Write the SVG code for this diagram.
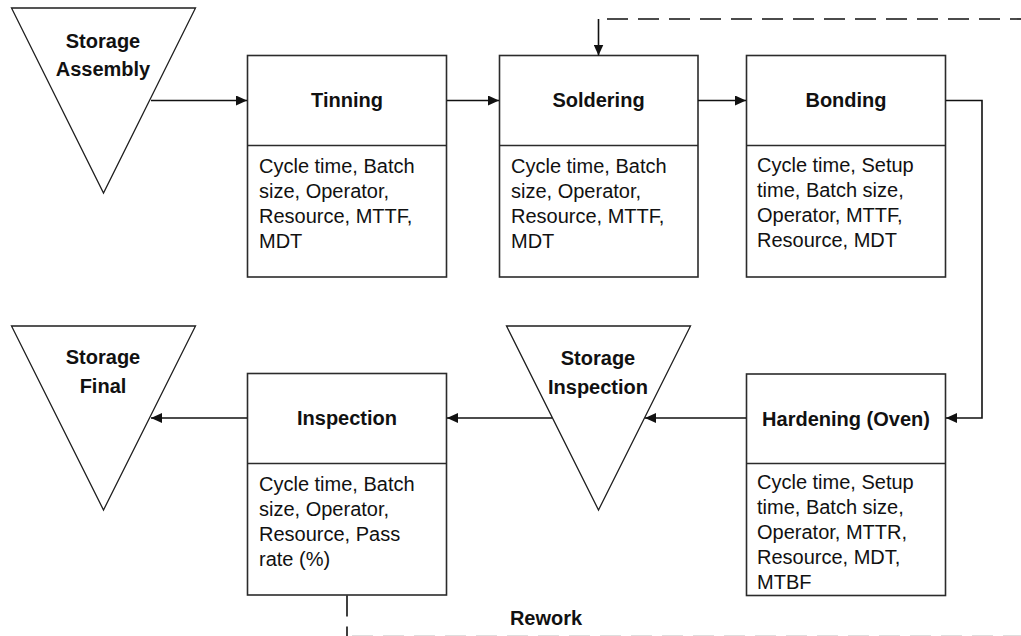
<svg xmlns="http://www.w3.org/2000/svg" width="1021" height="636" viewBox="0 0 1021 636">
  <defs>
    <style>
      .box { fill: #ffffff; stroke: #2b2b2b; stroke-width: 1.6; }
      .div { stroke: #2b2b2b; stroke-width: 1.6; }
      .store { fill: #ffffff; stroke: #1e1e1e; stroke-width: 1.3; }
      .title { font-family: "Liberation Sans", Arial, sans-serif; font-weight: bold; font-size: 20px; fill: #111111; text-anchor: middle; }
      .body { font-family: "Liberation Sans", Arial, sans-serif; font-size: 20px; fill: #111111; }
      .flow { fill: none; stroke: #111111; stroke-width: 1.6; }
      .dash { fill: none; stroke: #111111; stroke-width: 1.6; stroke-dasharray: 21 10; }
      .dash-faint { fill: none; stroke: #bdbdbd; stroke-width: 1.6; stroke-dasharray: 21 10; }
    </style>
    <marker id="arrow" viewBox="0 0 11 10" refX="11" refY="5" markerWidth="11" markerHeight="10" markerUnits="userSpaceOnUse" orient="auto">
      <path d="M0,0 L11,5 L0,10 z" fill="#111111"/>
    </marker>
  </defs>

  <rect width="1021" height="636" fill="#ffffff"/>

  <!-- storage points -->
  <g id="storage-assembly">
    <polygon class="store" points="11.5,8 195.5,8 103.5,193"/>
    <text class="title" x="103" y="47.5">Storage</text>
    <text class="title" x="103" y="76">Assembly</text>
  </g>
  <g id="storage-final">
    <polygon class="store" points="11.5,326 195.5,326 103.5,510"/>
    <text class="title" x="103" y="364">Storage</text>
    <text class="title" x="103" y="393">Final</text>
  </g>
  <g id="storage-inspection">
    <polygon class="store" points="506.5,326 690.5,326 598.5,510"/>
    <text class="title" x="598" y="365">Storage</text>
    <text class="title" x="598" y="394">Inspection</text>
  </g>

  <!-- process steps -->
  <g id="tinning">
    <rect class="box" x="247.5" y="55.5" width="199" height="221.5"/>
    <line class="div" x1="247.5" y1="145.5" x2="446.5" y2="145.5"/>
    <text class="title" x="347" y="107">Tinning</text>
    <text class="body" x="259" y="173">Cycle time, Batch</text>
    <text class="body" x="259" y="198">size, Operator,</text>
    <text class="body" x="259" y="223">Resource, MTTF,</text>
    <text class="body" x="259" y="248">MDT</text>
  </g>
  <g id="soldering">
    <rect class="box" x="499.5" y="55.5" width="198.5" height="221.5"/>
    <line class="div" x1="499.5" y1="145.5" x2="698" y2="145.5"/>
    <text class="title" x="598.5" y="107">Soldering</text>
    <text class="body" x="511" y="173">Cycle time, Batch</text>
    <text class="body" x="511" y="198">size, Operator,</text>
    <text class="body" x="511" y="223">Resource, MTTF,</text>
    <text class="body" x="511" y="248">MDT</text>
  </g>
  <g id="bonding">
    <rect class="box" x="746.5" y="55.5" width="199" height="221.5"/>
    <line class="div" x1="746.5" y1="145.5" x2="945.5" y2="145.5"/>
    <text class="title" x="846" y="107">Bonding</text>
    <text class="body" x="757" y="172">Cycle time, Setup</text>
    <text class="body" x="757" y="197">time, Batch size,</text>
    <text class="body" x="757" y="222">Operator, MTTF,</text>
    <text class="body" x="757" y="247">Resource, MDT</text>
  </g>
  <g id="hardening">
    <rect class="box" x="746.5" y="374" width="199" height="221.5"/>
    <line class="div" x1="746.5" y1="463.5" x2="945.5" y2="463.5"/>
    <text class="title" x="846" y="426">Hardening (Oven)</text>
    <text class="body" x="757" y="489">Cycle time, Setup</text>
    <text class="body" x="757" y="514">time, Batch size,</text>
    <text class="body" x="757" y="539">Operator, MTTR,</text>
    <text class="body" x="757" y="564">Resource, MDT,</text>
    <text class="body" x="757" y="589">MTBF</text>
  </g>
  <g id="inspection">
    <rect class="box" x="247.5" y="373.5" width="199" height="221.5"/>
    <line class="div" x1="247.5" y1="463.5" x2="446.5" y2="463.5"/>
    <text class="title" x="347" y="425">Inspection</text>
    <text class="body" x="259" y="491">Cycle time, Batch</text>
    <text class="body" x="259" y="516">size, Operator,</text>
    <text class="body" x="259" y="541">Resource, Pass</text>
    <text class="body" x="259" y="566">rate (%)</text>
  </g>

  <!-- connectors -->
  <g id="connectors">
    <path class="flow" d="M151,100.5 H247" marker-end="url(#arrow)"/>
    <path class="flow" d="M447,100.5 H499" marker-end="url(#arrow)"/>
    <path class="flow" d="M698,100.5 H746" marker-end="url(#arrow)"/>
    <path class="flow" d="M946,100.5 H982 V418 H946" marker-end="url(#arrow)"/>
    <path class="flow" d="M746,418 H645" marker-end="url(#arrow)"/>
    <path class="flow" d="M552,418 H447" marker-end="url(#arrow)"/>
    <path class="flow" d="M247,418 H151" marker-end="url(#arrow)"/>

    <!-- rework loop back to soldering -->
    <path class="dash" d="M347,595.5 V636"/>
    <path class="dash-faint" d="M352,636.3 H1021"/>
    <path class="dash" d="M607,19 H1021"/>
    <path class="flow" d="M598.5,19 V55.5" marker-end="url(#arrow)"/>
    <text class="title" x="546" y="625">Rework</text>
  </g>
</svg>
